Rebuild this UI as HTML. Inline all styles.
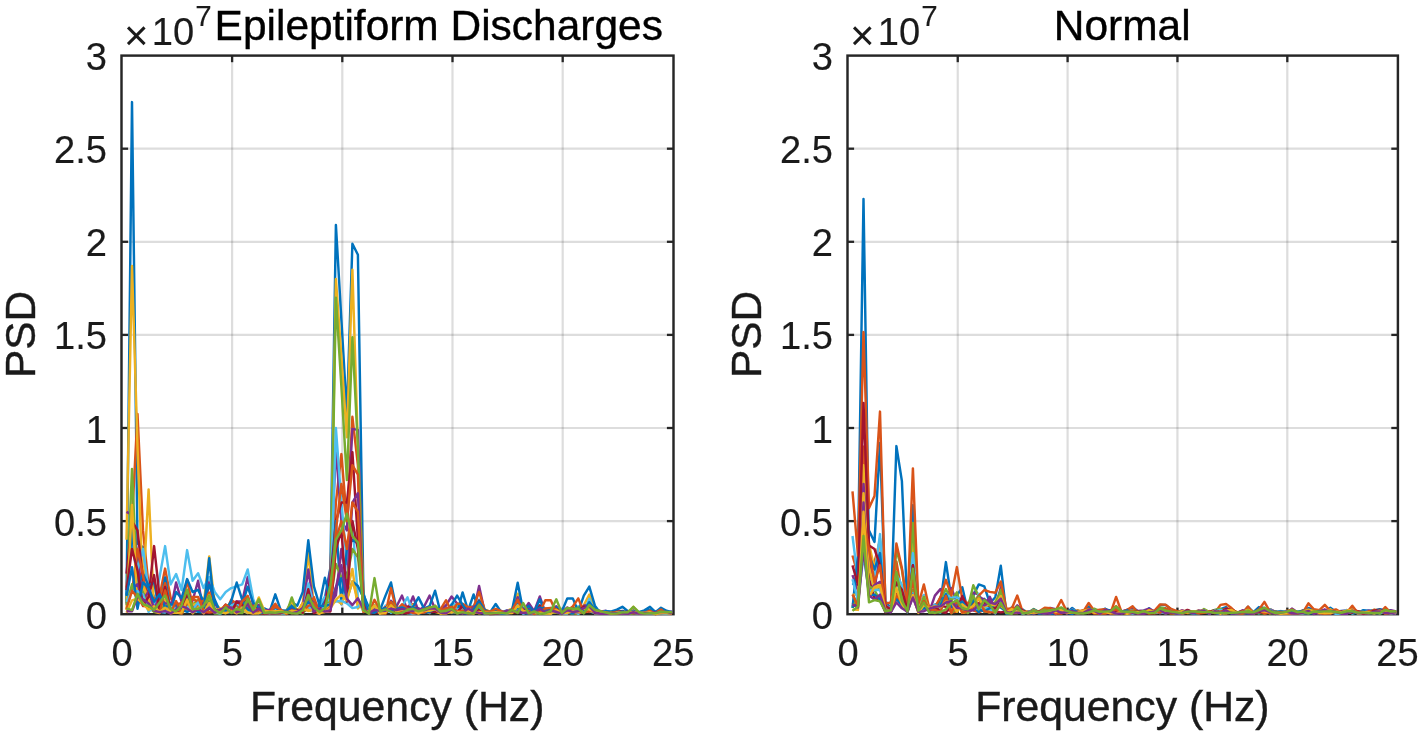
<!DOCTYPE html>
<html lang="en"><head><meta charset="utf-8"><title>PSD: Epileptiform Discharges vs Normal</title>
<style>html,body{margin:0;padding:0;background:#fff;}body{width:1422px;height:735px;overflow:hidden;}svg{display:block;}</style></head>
<body>
<svg width="1422" height="735" viewBox="0 0 1422 735" font-family='"Liberation Sans", sans-serif'>
<rect width="1422" height="735" fill="#fff"/>
<line x1="232.10" y1="55.6" x2="232.10" y2="614.2" stroke="#262626" stroke-opacity="0.155" stroke-width="2.2"/>
<line x1="342.30" y1="55.6" x2="342.30" y2="614.2" stroke="#262626" stroke-opacity="0.155" stroke-width="2.2"/>
<line x1="452.50" y1="55.6" x2="452.50" y2="614.2" stroke="#262626" stroke-opacity="0.155" stroke-width="2.2"/>
<line x1="562.70" y1="55.6" x2="562.70" y2="614.2" stroke="#262626" stroke-opacity="0.155" stroke-width="2.2"/>
<line x1="121.5" y1="521.10" x2="673.5" y2="521.10" stroke="#262626" stroke-opacity="0.155" stroke-width="2.2"/>
<line x1="121.5" y1="428.00" x2="673.5" y2="428.00" stroke="#262626" stroke-opacity="0.155" stroke-width="2.2"/>
<line x1="121.5" y1="334.90" x2="673.5" y2="334.90" stroke="#262626" stroke-opacity="0.155" stroke-width="2.2"/>
<line x1="121.5" y1="241.80" x2="673.5" y2="241.80" stroke="#262626" stroke-opacity="0.155" stroke-width="2.2"/>
<line x1="121.5" y1="148.70" x2="673.5" y2="148.70" stroke="#262626" stroke-opacity="0.155" stroke-width="2.2"/>
<rect x="121.5" y="55.6" width="552.00" height="558.6" fill="none" stroke="#262626" stroke-width="2.45"/>
<line x1="232.10" y1="614.2" x2="232.10" y2="607.6" stroke="#262626" stroke-width="2.3"/>
<line x1="232.10" y1="55.6" x2="232.10" y2="62.2" stroke="#262626" stroke-width="2.3"/>
<line x1="342.30" y1="614.2" x2="342.30" y2="607.6" stroke="#262626" stroke-width="2.3"/>
<line x1="342.30" y1="55.6" x2="342.30" y2="62.2" stroke="#262626" stroke-width="2.3"/>
<line x1="452.50" y1="614.2" x2="452.50" y2="607.6" stroke="#262626" stroke-width="2.3"/>
<line x1="452.50" y1="55.6" x2="452.50" y2="62.2" stroke="#262626" stroke-width="2.3"/>
<line x1="562.70" y1="614.2" x2="562.70" y2="607.6" stroke="#262626" stroke-width="2.3"/>
<line x1="562.70" y1="55.6" x2="562.70" y2="62.2" stroke="#262626" stroke-width="2.3"/>
<line x1="121.5" y1="521.10" x2="128.1" y2="521.10" stroke="#262626" stroke-width="2.3"/>
<line x1="673.5" y1="521.10" x2="666.9" y2="521.10" stroke="#262626" stroke-width="2.3"/>
<line x1="121.5" y1="428.00" x2="128.1" y2="428.00" stroke="#262626" stroke-width="2.3"/>
<line x1="673.5" y1="428.00" x2="666.9" y2="428.00" stroke="#262626" stroke-width="2.3"/>
<line x1="121.5" y1="334.90" x2="128.1" y2="334.90" stroke="#262626" stroke-width="2.3"/>
<line x1="673.5" y1="334.90" x2="666.9" y2="334.90" stroke="#262626" stroke-width="2.3"/>
<line x1="121.5" y1="241.80" x2="128.1" y2="241.80" stroke="#262626" stroke-width="2.3"/>
<line x1="673.5" y1="241.80" x2="666.9" y2="241.80" stroke="#262626" stroke-width="2.3"/>
<line x1="121.5" y1="148.70" x2="128.1" y2="148.70" stroke="#262626" stroke-width="2.3"/>
<line x1="673.5" y1="148.70" x2="666.9" y2="148.70" stroke="#262626" stroke-width="2.3"/>
<g fill="none" stroke-width="2.45" stroke-linejoin="round" stroke-linecap="butt">
<polyline stroke="#0072BD" points="126.5,603.0 132.0,102.1 137.5,543.4 143.0,547.2 148.6,593.3 154.1,595.9 159.6,608.7 165.1,611.5 170.6,607.1 176.1,606.1 181.6,604.8 187.1,593.1 192.6,612.7 198.1,609.9 203.6,612.4 209.2,601.2 214.7,610.1 220.2,613.7 225.7,608.5 231.2,611.4 236.7,609.5 242.2,604.9 247.7,610.7 253.2,610.3 258.8,609.6 264.3,610.5 269.8,612.4 275.3,613.0 280.8,613.5 286.3,611.7 291.8,608.4 297.3,611.0 302.8,608.4 308.3,590.1 313.9,609.5 319.4,613.3 324.9,598.1 330.4,567.7 335.9,225.0 341.4,320.0 346.9,414.0 352.4,243.7 357.9,254.8 363.4,592.8 368.9,613.6 374.5,607.0 380.0,610.7 385.5,612.4 391.0,610.1 396.5,609.2 402.0,613.1 407.5,612.7 413.0,610.5 418.5,613.6 424.1,612.3 429.6,606.7 435.1,609.8 440.6,612.4 446.1,608.8 451.6,607.7 457.1,611.7 462.6,613.0 468.1,613.8 473.6,612.9 479.1,611.3 484.7,613.9 490.2,613.7 495.7,613.4 501.2,612.9 506.7,613.3 512.2,612.9 517.7,603.3 523.2,612.2 528.7,613.8 534.2,613.4 539.8,608.6 545.3,613.2 550.8,611.7 556.3,611.5 561.8,612.8 567.3,608.5 572.8,612.7 578.3,612.9 583.8,610.4 589.3,611.4 594.9,609.5 600.4,611.2 605.9,611.9 611.4,613.6 616.9,613.6 622.4,613.9 627.9,613.3 633.4,611.1 638.9,612.1 644.4,611.8 650.0,613.6 655.5,613.8 661.0,612.1 666.5,612.1 672.0,612.8"/>
<polyline stroke="#D95319" points="126.5,587.7 132.0,521.1 137.5,414.0 143.0,530.4 148.6,586.0 154.1,603.4 159.6,595.7 165.1,568.6 170.6,597.8 176.1,608.0 181.6,612.9 187.1,579.9 192.6,605.6 198.1,605.9 203.6,602.9 209.2,579.8 214.7,611.7 220.2,612.4 225.7,612.3 231.2,610.1 236.7,605.0 242.2,608.2 247.7,603.8 253.2,609.8 258.8,610.9 264.3,613.4 269.8,613.2 275.3,606.6 280.8,612.6 286.3,611.7 291.8,613.0 297.3,612.9 302.8,602.9 308.3,586.3 313.9,600.3 319.4,609.5 324.9,607.7 330.4,595.7 335.9,502.5 341.4,454.1 346.9,521.1 352.4,416.8 357.9,465.2 363.4,601.8 368.9,613.6 374.5,612.4 380.0,609.8 385.5,612.5 391.0,604.1 396.5,607.4 402.0,611.9 407.5,611.0 413.0,604.0 418.5,612.8 424.1,610.9 429.6,612.6 435.1,605.8 440.6,612.0 446.1,613.6 451.6,608.6 457.1,612.8 462.6,604.8 468.1,613.3 473.6,613.1 479.1,611.1 484.7,611.8 490.2,611.3 495.7,612.9 501.2,612.2 506.7,613.8 512.2,610.1 517.7,612.4 523.2,610.2 528.7,613.1 534.2,613.4 539.8,610.5 545.3,610.0 550.8,612.6 556.3,610.5 561.8,613.9 567.3,613.6 572.8,612.0 578.3,608.0 583.8,609.9 589.3,610.3 594.9,612.9 600.4,611.1 605.9,613.4 611.4,612.3 616.9,611.5 622.4,611.9 627.9,612.9 633.4,611.0 638.9,613.1 644.4,611.8 650.0,612.7 655.5,614.0 661.0,613.4 666.5,613.5 672.0,613.4"/>
<polyline stroke="#EDB120" points="126.5,539.7 132.0,266.0 137.5,446.6 143.0,593.5 148.6,489.4 154.1,610.4 159.6,606.8 165.1,609.0 170.6,613.4 176.1,612.4 181.6,613.6 187.1,606.9 192.6,605.5 198.1,599.7 203.6,605.2 209.2,556.5 214.7,603.1 220.2,608.9 225.7,613.0 231.2,602.5 236.7,603.1 242.2,612.3 247.7,604.5 253.2,606.6 258.8,609.4 264.3,610.9 269.8,613.4 275.3,613.0 280.8,613.2 286.3,612.0 291.8,609.2 297.3,612.0 302.8,603.3 308.3,552.8 313.9,606.1 319.4,609.1 324.9,607.7 330.4,593.8 335.9,279.0 341.4,357.2 346.9,437.3 352.4,269.7 357.9,446.6 363.4,601.9 368.9,610.2 374.5,605.6 380.0,613.7 385.5,608.2 391.0,604.6 396.5,611.1 402.0,610.7 407.5,606.8 413.0,604.9 418.5,613.5 424.1,608.5 429.6,610.7 435.1,611.8 440.6,613.2 446.1,613.1 451.6,605.8 457.1,606.7 462.6,604.4 468.1,612.3 473.6,610.3 479.1,613.3 484.7,612.3 490.2,613.6 495.7,612.4 501.2,613.5 506.7,610.8 512.2,608.6 517.7,593.7 523.2,612.3 528.7,608.2 534.2,613.1 539.8,612.4 545.3,613.0 550.8,612.1 556.3,612.7 561.8,613.3 567.3,611.3 572.8,606.9 578.3,609.2 583.8,605.2 589.3,594.6 594.9,609.6 600.4,611.2 605.9,613.6 611.4,612.4 616.9,612.9 622.4,612.8 627.9,611.3 633.4,611.8 638.9,613.0 644.4,613.7 650.0,613.0 655.5,613.1 661.0,610.6 666.5,613.1 672.0,613.9"/>
<polyline stroke="#7E2F8E" points="126.5,511.8 132.0,514.6 137.5,555.5 143.0,600.4 148.6,608.6 154.1,610.3 159.6,601.4 165.1,607.8 170.6,610.7 176.1,582.5 181.6,601.9 187.1,591.9 192.6,600.8 198.1,580.7 203.6,613.3 209.2,582.3 214.7,602.6 220.2,612.5 225.7,612.3 231.2,604.1 236.7,601.4 242.2,601.4 247.7,577.0 253.2,606.0 258.8,604.7 264.3,612.9 269.8,612.7 275.3,606.7 280.8,613.5 286.3,611.7 291.8,612.2 297.3,613.7 302.8,607.4 308.3,569.5 313.9,607.7 319.4,611.9 324.9,603.1 330.4,569.8 335.9,448.5 341.4,521.1 346.9,530.4 352.4,428.9 357.9,429.9 363.4,599.0 368.9,609.3 374.5,610.3 380.0,612.3 385.5,612.2 391.0,600.8 396.5,606.5 402.0,595.6 407.5,610.5 413.0,596.5 418.5,611.0 424.1,606.5 429.6,595.6 435.1,609.3 440.6,609.9 446.1,605.2 451.6,596.5 457.1,603.4 462.6,613.1 468.1,611.4 473.6,611.2 479.1,585.9 484.7,612.0 490.2,613.1 495.7,613.0 501.2,611.0 506.7,612.5 512.2,611.4 517.7,597.2 523.2,611.7 528.7,603.0 534.2,611.1 539.8,596.5 545.3,613.0 550.8,612.1 556.3,606.2 561.8,613.1 567.3,609.0 572.8,607.9 578.3,612.3 583.8,605.8 589.3,604.4 594.9,613.7 600.4,611.8 605.9,610.8 611.4,613.5 616.9,612.2 622.4,613.0 627.9,611.3 633.4,610.6 638.9,613.4 644.4,612.7 650.0,613.8 655.5,612.1 661.0,613.9 666.5,612.4 672.0,611.4"/>
<polyline stroke="#77AC30" points="126.5,602.4 132.0,469.0 137.5,593.5 143.0,591.8 148.6,606.3 154.1,611.3 159.6,605.4 165.1,609.8 170.6,612.4 176.1,607.1 181.6,610.9 187.1,604.8 192.6,604.9 198.1,600.0 203.6,610.1 209.2,597.5 214.7,613.6 220.2,613.6 225.7,606.2 231.2,605.6 236.7,604.7 242.2,611.7 247.7,599.6 253.2,610.4 258.8,613.0 264.3,613.7 269.8,613.2 275.3,610.1 280.8,613.8 286.3,612.5 291.8,612.7 297.3,610.9 302.8,613.5 308.3,606.0 313.9,608.7 319.4,613.1 324.9,608.7 330.4,598.9 335.9,297.7 341.4,387.0 346.9,480.1 352.4,337.3 357.9,446.6 363.4,595.4 368.9,612.3 374.5,609.6 380.0,612.9 385.5,613.5 391.0,607.4 396.5,613.4 402.0,612.0 407.5,613.4 413.0,610.9 418.5,613.3 424.1,610.1 429.6,613.2 435.1,605.9 440.6,613.2 446.1,609.5 451.6,608.3 457.1,609.0 462.6,608.5 468.1,612.0 473.6,608.7 479.1,612.4 484.7,612.5 490.2,613.8 495.7,611.2 501.2,613.7 506.7,612.1 512.2,611.0 517.7,608.2 523.2,611.9 528.7,612.5 534.2,613.1 539.8,611.7 545.3,613.5 550.8,612.1 556.3,610.0 561.8,613.6 567.3,612.0 572.8,613.4 578.3,613.5 583.8,611.5 589.3,608.8 594.9,610.6 600.4,613.1 605.9,613.1 611.4,612.9 616.9,611.9 622.4,611.9 627.9,613.2 633.4,612.5 638.9,612.9 644.4,612.1 650.0,613.8 655.5,613.0 661.0,612.0 666.5,612.6 672.0,613.0"/>
<polyline stroke="#4DBEEE" points="126.5,593.3 132.0,539.7 137.5,570.1 143.0,549.0 148.6,590.7 154.1,605.1 159.6,577.0 165.1,546.1 170.6,584.4 176.1,574.0 181.6,590.0 187.1,550.1 192.6,580.7 198.1,573.2 203.6,588.1 209.2,577.0 214.7,591.9 220.2,599.3 225.7,591.9 231.2,588.1 236.7,586.3 242.2,584.4 247.7,569.5 253.2,599.3 258.8,612.2 264.3,611.3 269.8,610.9 275.3,612.3 280.8,613.1 286.3,613.4 291.8,605.3 297.3,611.9 302.8,613.0 308.3,583.5 313.9,604.5 319.4,605.5 324.9,596.7 330.4,602.7 335.9,428.0 341.4,502.5 346.9,564.0 352.4,521.1 357.9,598.5 363.4,611.9 368.9,609.0 374.5,609.1 380.0,613.2 385.5,605.6 391.0,612.8 396.5,608.6 402.0,606.4 407.5,597.4 413.0,612.4 418.5,611.1 424.1,608.7 429.6,606.9 435.1,607.4 440.6,610.6 446.1,612.1 451.6,603.9 457.1,604.8 462.6,611.6 468.1,607.5 473.6,605.9 479.1,599.6 484.7,612.6 490.2,611.6 495.7,609.9 501.2,612.3 506.7,610.4 512.2,611.4 517.7,605.0 523.2,612.7 528.7,613.1 534.2,613.8 539.8,612.6 545.3,611.9 550.8,613.8 556.3,608.2 561.8,612.3 567.3,613.2 572.8,611.0 578.3,606.3 583.8,612.9 589.3,598.8 594.9,613.4 600.4,613.8 605.9,610.9 611.4,612.4 616.9,612.2 622.4,613.8 627.9,611.7 633.4,612.8 638.9,613.9 644.4,613.0 650.0,612.7 655.5,611.2 661.0,610.6 666.5,613.7 672.0,612.9"/>
<polyline stroke="#A2142F" points="126.5,573.7 132.0,521.1 137.5,530.4 143.0,579.5 148.6,596.9 154.1,546.1 159.6,596.8 165.1,608.5 170.6,608.1 176.1,603.1 181.6,604.9 187.1,590.5 192.6,609.4 198.1,607.4 203.6,612.6 209.2,612.7 214.7,611.4 220.2,610.9 225.7,604.6 231.2,609.1 236.7,602.8 242.2,605.6 247.7,608.7 253.2,606.3 258.8,608.4 264.3,612.0 269.8,611.8 275.3,609.9 280.8,613.3 286.3,612.9 291.8,607.4 297.3,613.4 302.8,610.5 308.3,609.7 313.9,611.6 319.4,609.2 324.9,604.9 330.4,579.5 335.9,521.1 341.4,502.5 346.9,502.5 352.4,452.2 357.9,539.7 363.4,611.0 368.9,611.5 374.5,607.5 380.0,611.5 385.5,607.3 391.0,608.5 396.5,609.5 402.0,612.2 407.5,606.6 413.0,608.1 418.5,608.7 424.1,611.6 429.6,609.1 435.1,609.8 440.6,611.4 446.1,612.6 451.6,610.6 457.1,610.8 462.6,604.2 468.1,609.4 473.6,610.9 479.1,600.5 484.7,612.0 490.2,611.2 495.7,612.0 501.2,612.5 506.7,611.1 512.2,610.5 517.7,607.2 523.2,608.8 528.7,610.5 534.2,612.2 539.8,605.3 545.3,613.6 550.8,612.1 556.3,611.5 561.8,612.8 567.3,612.5 572.8,608.2 578.3,610.6 583.8,607.0 589.3,612.0 594.9,608.9 600.4,611.8 605.9,612.7 611.4,612.2 616.9,612.0 622.4,611.0 627.9,613.2 633.4,613.2 638.9,613.1 644.4,613.4 650.0,613.2 655.5,613.9 661.0,611.9 666.5,613.5 672.0,613.2"/>
<polyline stroke="#0072BD" points="126.5,594.9 132.0,530.4 137.5,587.0 143.0,573.8 148.6,585.8 154.1,582.0 159.6,611.2 165.1,577.5 170.6,611.1 176.1,592.0 181.6,598.2 187.1,579.1 192.6,592.0 198.1,589.8 203.6,601.8 209.2,584.8 214.7,599.6 220.2,611.9 225.7,612.1 231.2,612.7 236.7,611.4 242.2,604.8 247.7,586.7 253.2,602.8 258.8,607.8 264.3,608.4 269.8,611.2 275.3,594.3 280.8,610.3 286.3,610.8 291.8,602.5 297.3,605.6 302.8,591.9 308.3,540.3 313.9,586.3 319.4,604.9 324.9,577.8 330.4,599.4 335.9,521.1 341.4,604.3 346.9,549.0 352.4,539.7 357.9,543.4 363.4,594.7 368.9,607.8 374.5,607.7 380.0,610.3 385.5,595.6 391.0,582.5 396.5,609.8 402.0,611.1 407.5,611.8 413.0,606.8 418.5,597.4 424.1,608.6 429.6,606.2 435.1,590.7 440.6,612.9 446.1,609.8 451.6,613.0 457.1,612.9 462.6,592.4 468.1,610.5 473.6,594.5 479.1,610.1 484.7,611.7 490.2,612.1 495.7,604.0 501.2,612.2 506.7,613.0 512.2,609.5 517.7,582.7 523.2,611.3 528.7,605.8 534.2,612.3 539.8,599.3 545.3,612.5 550.8,613.7 556.3,607.4 561.8,611.5 567.3,598.4 572.8,598.4 578.3,611.6 583.8,595.6 589.3,586.6 594.9,605.7 600.4,613.3 605.9,611.2 611.4,611.5 616.9,609.7 622.4,606.8 627.9,611.2 633.4,613.6 638.9,612.2 644.4,610.4 650.0,606.8 655.5,612.2 661.0,607.7 666.5,610.8 672.0,612.2"/>
<polyline stroke="#D95319" points="126.5,599.1 132.0,591.9 137.5,549.0 143.0,575.1 148.6,607.9 154.1,597.7 159.6,602.1 165.1,583.3 170.6,613.3 176.1,605.9 181.6,602.5 187.1,611.6 192.6,598.3 198.1,602.2 203.6,601.0 209.2,592.6 214.7,610.7 220.2,609.5 225.7,611.7 231.2,599.8 236.7,603.9 242.2,607.5 247.7,608.8 253.2,605.7 258.8,612.9 264.3,610.1 269.8,610.8 275.3,603.7 280.8,611.6 286.3,613.5 291.8,612.4 297.3,612.0 302.8,608.6 308.3,609.4 313.9,597.2 319.4,613.0 324.9,610.1 330.4,607.1 335.9,530.4 341.4,483.9 346.9,521.1 352.4,465.2 357.9,474.6 363.4,611.9 368.9,608.3 374.5,610.3 380.0,613.3 385.5,613.4 391.0,588.1 396.5,610.7 402.0,604.3 407.5,608.8 413.0,612.5 418.5,611.9 424.1,609.1 429.6,607.3 435.1,609.1 440.6,609.2 446.1,600.2 451.6,612.0 457.1,603.8 462.6,603.9 468.1,607.2 473.6,606.8 479.1,591.9 484.7,609.7 490.2,611.6 495.7,610.6 501.2,613.7 506.7,613.2 512.2,611.5 517.7,610.9 523.2,610.2 528.7,609.7 534.2,613.3 539.8,611.9 545.3,600.2 550.8,600.2 556.3,612.8 561.8,612.0 567.3,610.6 572.8,606.5 578.3,598.4 583.8,612.4 589.3,603.2 594.9,612.7 600.4,613.0 605.9,613.6 611.4,612.2 616.9,613.4 622.4,612.5 627.9,613.2 633.4,613.3 638.9,612.7 644.4,612.7 650.0,613.2 655.5,612.7 661.0,609.6 666.5,613.7 672.0,612.2"/>
<polyline stroke="#EDB120" points="126.5,610.0 132.0,504.9 137.5,601.8 143.0,585.4 148.6,598.9 154.1,611.7 159.6,613.1 165.1,599.7 170.6,611.7 176.1,605.3 181.6,606.4 187.1,610.5 192.6,605.0 198.1,603.5 203.6,606.1 209.2,595.2 214.7,610.6 220.2,608.6 225.7,606.6 231.2,612.2 236.7,610.6 242.2,610.4 247.7,613.1 253.2,611.2 258.8,597.4 264.3,610.7 269.8,612.8 275.3,611.3 280.8,613.3 286.3,611.0 291.8,601.2 297.3,612.2 302.8,603.3 308.3,610.3 313.9,611.6 319.4,613.8 324.9,610.1 330.4,604.0 335.9,600.0 341.4,603.7 346.9,591.7 352.4,568.9 357.9,608.5 363.4,602.0 368.9,612.7 374.5,606.3 380.0,613.4 385.5,609.0 391.0,603.7 396.5,612.3 402.0,607.9 407.5,611.5 413.0,608.9 418.5,612.8 424.1,611.7 429.6,608.0 435.1,606.4 440.6,613.6 446.1,608.2 451.6,612.6 457.1,609.9 462.6,610.4 468.1,611.8 473.6,613.7 479.1,602.8 484.7,610.3 490.2,611.6 495.7,610.7 501.2,612.8 506.7,612.0 512.2,611.5 517.7,607.3 523.2,612.0 528.7,609.8 534.2,613.2 539.8,613.1 545.3,608.6 550.8,612.8 556.3,611.5 561.8,614.0 567.3,612.6 572.8,612.7 578.3,613.3 583.8,607.8 589.3,608.5 594.9,612.9 600.4,612.7 605.9,612.7 611.4,613.7 616.9,613.5 622.4,612.9 627.9,613.8 633.4,606.8 638.9,613.1 644.4,613.0 650.0,613.0 655.5,613.9 661.0,611.7 666.5,613.8 672.0,613.1"/>
<polyline stroke="#7E2F8E" points="126.5,604.1 132.0,588.8 137.5,584.2 143.0,600.8 148.6,591.2 154.1,608.3 159.6,597.8 165.1,603.7 170.6,602.6 176.1,608.7 181.6,609.7 187.1,607.8 192.6,607.0 198.1,609.3 203.6,604.4 209.2,605.0 214.7,611.9 220.2,610.5 225.7,612.8 231.2,610.8 236.7,602.2 242.2,612.0 247.7,596.5 253.2,613.3 258.8,610.5 264.3,610.8 269.8,609.6 275.3,609.9 280.8,612.7 286.3,612.3 291.8,606.7 297.3,612.0 302.8,610.3 308.3,598.2 313.9,602.9 319.4,611.3 324.9,604.7 330.4,603.0 335.9,595.4 341.4,549.0 346.9,583.5 352.4,502.5 357.9,493.2 363.4,609.6 368.9,612.4 374.5,610.4 380.0,612.3 385.5,612.7 391.0,606.6 396.5,607.9 402.0,613.5 407.5,608.5 413.0,609.3 418.5,611.9 424.1,610.8 429.6,612.7 435.1,609.2 440.6,611.9 446.1,607.5 451.6,611.6 457.1,612.7 462.6,613.3 468.1,613.0 473.6,606.9 479.1,604.6 484.7,613.4 490.2,613.0 495.7,612.9 501.2,613.6 506.7,610.5 512.2,612.6 517.7,610.0 523.2,609.5 528.7,609.1 534.2,612.7 539.8,613.1 545.3,608.9 550.8,608.1 556.3,612.3 561.8,612.2 567.3,607.4 572.8,611.6 578.3,612.9 583.8,606.8 589.3,604.9 594.9,613.2 600.4,613.0 605.9,613.3 611.4,613.7 616.9,613.2 622.4,613.9 627.9,612.0 633.4,613.5 638.9,613.7 644.4,613.6 650.0,613.2 655.5,612.8 661.0,613.0 666.5,613.6 672.0,612.3"/>
<polyline stroke="#77AC30" points="126.5,605.4 132.0,584.2 137.5,601.1 143.0,593.9 148.6,607.7 154.1,611.8 159.6,610.7 165.1,605.7 170.6,608.3 176.1,609.4 181.6,612.4 187.1,607.7 192.6,612.7 198.1,609.4 203.6,611.9 209.2,608.8 214.7,612.8 220.2,612.7 225.7,605.8 231.2,604.7 236.7,612.8 242.2,613.1 247.7,603.6 253.2,611.3 258.8,609.8 264.3,611.0 269.8,612.0 275.3,612.8 280.8,611.2 286.3,614.0 291.8,597.4 297.3,612.9 302.8,613.4 308.3,597.7 313.9,604.9 319.4,610.2 324.9,608.1 330.4,600.9 335.9,564.0 341.4,577.4 346.9,577.7 352.4,549.0 357.9,557.4 363.4,605.4 368.9,611.1 374.5,605.0 380.0,611.1 385.5,612.6 391.0,602.1 396.5,609.0 402.0,608.6 407.5,610.2 413.0,613.3 418.5,611.6 424.1,609.4 429.6,609.0 435.1,607.7 440.6,613.2 446.1,608.4 451.6,610.8 457.1,613.5 462.6,611.3 468.1,612.7 473.6,608.7 479.1,612.1 484.7,612.3 490.2,611.6 495.7,612.7 501.2,613.6 506.7,612.8 512.2,611.6 517.7,612.2 523.2,611.6 528.7,610.4 534.2,613.8 539.8,612.1 545.3,613.7 550.8,612.9 556.3,612.0 561.8,613.5 567.3,612.4 572.8,613.8 578.3,607.4 583.8,613.1 589.3,603.0 594.9,613.4 600.4,613.0 605.9,613.2 611.4,612.4 616.9,612.3 622.4,612.3 627.9,613.7 633.4,613.5 638.9,612.8 644.4,613.4 650.0,611.1 655.5,613.4 661.0,611.6 666.5,613.5 672.0,612.8"/>
<polyline stroke="#4DBEEE" points="126.5,601.9 132.0,591.0 137.5,591.2 143.0,594.6 148.6,611.9 154.1,606.9 159.6,611.9 165.1,612.6 170.6,605.2 176.1,609.3 181.6,608.9 187.1,606.6 192.6,609.7 198.1,602.4 203.6,612.9 209.2,606.8 214.7,612.0 220.2,613.6 225.7,610.6 231.2,605.5 236.7,602.8 242.2,608.1 247.7,612.8 253.2,610.6 258.8,610.7 264.3,612.5 269.8,613.2 275.3,608.3 280.8,613.3 286.3,613.2 291.8,610.5 297.3,612.0 302.8,609.5 308.3,606.3 313.9,612.3 319.4,611.8 324.9,606.3 330.4,603.6 335.9,601.5 341.4,600.8 346.9,603.4 352.4,608.1 357.9,607.0 363.4,599.5 368.9,610.6 374.5,605.5 380.0,613.2 385.5,609.9 391.0,605.3 396.5,612.9 402.0,610.6 407.5,613.0 413.0,613.7 418.5,612.5 424.1,611.7 429.6,612.3 435.1,610.8 440.6,612.2 446.1,611.2 451.6,608.9 457.1,609.5 462.6,608.4 468.1,610.1 473.6,611.7 479.1,604.4 484.7,613.6 490.2,613.6 495.7,611.4 501.2,611.9 506.7,613.5 512.2,612.2 517.7,608.7 523.2,613.9 528.7,611.2 534.2,613.1 539.8,610.2 545.3,613.0 550.8,611.5 556.3,609.6 561.8,613.9 567.3,613.2 572.8,609.0 578.3,613.8 583.8,608.7 589.3,611.0 594.9,613.1 600.4,612.8 605.9,613.1 611.4,613.7 616.9,612.1 622.4,613.9 627.9,613.3 633.4,612.6 638.9,613.9 644.4,613.0 650.0,613.7 655.5,612.6 661.0,613.5 666.5,613.6 672.0,613.5"/>
<polyline stroke="#A2142F" points="126.5,590.2 132.0,549.0 137.5,570.4 143.0,606.0 148.6,596.7 154.1,575.1 159.6,610.2 165.1,587.0 170.6,610.7 176.1,611.3 181.6,613.2 187.1,592.6 192.6,609.1 198.1,610.5 203.6,613.3 209.2,608.5 214.7,609.4 220.2,612.0 225.7,609.7 231.2,612.5 236.7,601.5 242.2,605.4 247.7,599.4 253.2,610.6 258.8,612.7 264.3,613.9 269.8,613.0 275.3,612.7 280.8,613.2 286.3,611.3 291.8,612.7 297.3,609.5 302.8,612.8 308.3,589.2 313.9,613.0 319.4,610.9 324.9,611.2 330.4,611.5 335.9,549.0 341.4,530.4 346.9,601.6 352.4,521.1 357.9,549.0 363.4,602.5 368.9,613.0 374.5,612.9 380.0,611.7 385.5,613.3 391.0,605.7 396.5,613.7 402.0,612.9 407.5,613.1 413.0,611.5 418.5,610.5 424.1,610.8 429.6,611.8 435.1,611.9 440.6,611.5 446.1,612.4 451.6,607.0 457.1,612.3 462.6,606.1 468.1,613.6 473.6,609.1 479.1,610.4 484.7,613.0 490.2,614.0 495.7,613.8 501.2,612.9 506.7,613.1 512.2,612.9 517.7,612.1 523.2,610.1 528.7,613.4 534.2,613.1 539.8,610.9 545.3,612.2 550.8,611.9 556.3,608.9 561.8,613.2 567.3,610.4 572.8,608.9 578.3,610.9 583.8,606.8 589.3,608.1 594.9,613.1 600.4,613.0 605.9,613.3 611.4,613.1 616.9,611.8 622.4,612.7 627.9,611.7 633.4,613.1 638.9,612.8 644.4,613.3 650.0,611.5 655.5,612.6 661.0,612.8 666.5,612.2 672.0,612.7"/>
<polyline stroke="#0072BD" points="126.5,596.0 132.0,567.3 137.5,608.8 143.0,582.4 148.6,588.2 154.1,601.7 159.6,594.3 165.1,607.4 170.6,604.2 176.1,605.0 181.6,609.7 187.1,611.9 192.6,609.3 198.1,611.8 203.6,612.5 209.2,558.3 214.7,612.3 220.2,610.8 225.7,610.6 231.2,601.1 236.7,582.5 242.2,599.8 247.7,609.3 253.2,612.2 258.8,613.3 264.3,612.2 269.8,612.8 275.3,607.0 280.8,611.5 286.3,611.0 291.8,606.0 297.3,612.1 302.8,608.5 308.3,602.0 313.9,609.2 319.4,606.0 324.9,605.7 330.4,604.6 335.9,587.7 341.4,578.2 346.9,599.2 352.4,581.4 357.9,586.0 363.4,597.4 368.9,612.1 374.5,612.8 380.0,609.7 385.5,608.3 391.0,610.8 396.5,609.1 402.0,607.4 407.5,609.8 413.0,608.2 418.5,608.8 424.1,612.6 429.6,611.6 435.1,608.8 440.6,612.1 446.1,612.9 451.6,605.0 457.1,595.6 462.6,604.9 468.1,612.6 473.6,609.8 479.1,601.4 484.7,609.9 490.2,612.5 495.7,609.8 501.2,613.7 506.7,613.6 512.2,609.2 517.7,608.0 523.2,611.6 528.7,610.1 534.2,612.4 539.8,607.4 545.3,609.3 550.8,610.8 556.3,611.7 561.8,613.6 567.3,612.5 572.8,613.6 578.3,608.4 583.8,611.6 589.3,602.2 594.9,609.6 600.4,613.3 605.9,611.5 611.4,613.6 616.9,612.9 622.4,611.4 627.9,612.8 633.4,610.8 638.9,613.2 644.4,611.3 650.0,609.7 655.5,613.0 661.0,613.3 666.5,611.8 672.0,612.9"/>
<polyline stroke="#D95319" points="126.5,609.1 132.0,590.8 137.5,597.4 143.0,605.5 148.6,607.3 154.1,606.7 159.6,612.7 165.1,590.4 170.6,612.9 176.1,601.1 181.6,613.0 187.1,603.4 192.6,596.9 198.1,597.0 203.6,610.6 209.2,612.3 214.7,611.8 220.2,612.3 225.7,604.7 231.2,608.5 236.7,613.1 242.2,601.3 247.7,595.8 253.2,612.8 258.8,610.2 264.3,612.1 269.8,611.6 275.3,606.6 280.8,609.6 286.3,613.8 291.8,610.2 297.3,611.3 302.8,610.9 308.3,605.9 313.9,603.3 319.4,610.8 324.9,611.3 330.4,607.5 335.9,539.7 341.4,521.1 346.9,549.0 352.4,502.5 357.9,511.8 363.4,609.0 368.9,612.8 374.5,599.8 380.0,609.9 385.5,613.4 391.0,602.0 396.5,611.6 402.0,611.8 407.5,609.0 413.0,613.2 418.5,613.1 424.1,612.6 429.6,609.4 435.1,608.6 440.6,610.7 446.1,608.5 451.6,606.9 457.1,611.4 462.6,610.6 468.1,612.6 473.6,613.1 479.1,604.6 484.7,611.3 490.2,611.6 495.7,608.9 501.2,611.2 506.7,613.1 512.2,610.0 517.7,599.9 523.2,611.4 528.7,611.0 534.2,613.9 539.8,611.8 545.3,608.5 550.8,607.9 556.3,609.7 561.8,613.0 567.3,609.6 572.8,611.9 578.3,612.3 583.8,612.4 589.3,611.2 594.9,611.1 600.4,611.9 605.9,612.4 611.4,613.7 616.9,613.5 622.4,613.4 627.9,613.2 633.4,611.9 638.9,613.3 644.4,612.9 650.0,610.7 655.5,613.9 661.0,611.4 666.5,612.7 672.0,613.7"/>
<polyline stroke="#EDB120" points="126.5,612.7 132.0,600.4 137.5,598.7 143.0,603.3 148.6,609.9 154.1,606.3 159.6,612.1 165.1,607.7 170.6,611.6 176.1,612.9 181.6,612.6 187.1,599.8 192.6,613.4 198.1,607.2 203.6,613.3 209.2,603.0 214.7,611.9 220.2,611.9 225.7,613.2 231.2,611.4 236.7,613.3 242.2,607.8 247.7,612.5 253.2,613.5 258.8,613.2 264.3,610.8 269.8,611.8 275.3,611.2 280.8,611.2 286.3,612.8 291.8,610.9 297.3,611.7 302.8,608.6 308.3,610.9 313.9,608.7 319.4,613.1 324.9,612.0 330.4,608.3 335.9,599.7 341.4,594.7 346.9,600.5 352.4,581.3 357.9,600.0 363.4,610.6 368.9,611.6 374.5,605.5 380.0,613.5 385.5,612.9 391.0,605.3 396.5,611.4 402.0,609.6 407.5,610.5 413.0,609.8 418.5,613.4 424.1,610.9 429.6,610.8 435.1,609.0 440.6,613.3 446.1,613.2 451.6,612.0 457.1,611.9 462.6,613.0 468.1,610.2 473.6,612.9 479.1,612.0 484.7,612.7 490.2,612.6 495.7,612.3 501.2,612.8 506.7,613.0 512.2,613.1 517.7,605.7 523.2,611.0 528.7,612.1 534.2,612.8 539.8,612.9 545.3,613.3 550.8,613.9 556.3,609.7 561.8,613.2 567.3,612.9 572.8,611.4 578.3,611.9 583.8,608.5 589.3,609.3 594.9,611.8 600.4,611.8 605.9,612.8 611.4,613.5 616.9,612.5 622.4,613.0 627.9,612.5 633.4,611.9 638.9,613.3 644.4,612.4 650.0,612.2 655.5,613.9 661.0,613.3 666.5,612.7 672.0,613.2"/>
<polyline stroke="#7E2F8E" points="126.5,611.3 132.0,611.2 137.5,596.7 143.0,599.2 148.6,603.5 154.1,610.7 159.6,612.1 165.1,611.1 170.6,613.4 176.1,609.4 181.6,606.0 187.1,608.4 192.6,612.3 198.1,609.2 203.6,612.2 209.2,607.6 214.7,612.6 220.2,609.3 225.7,607.6 231.2,607.4 236.7,612.4 242.2,609.9 247.7,604.4 253.2,612.6 258.8,608.6 264.3,613.1 269.8,613.0 275.3,613.2 280.8,612.4 286.3,611.6 291.8,613.1 297.3,611.9 302.8,608.1 308.3,594.7 313.9,611.5 319.4,608.7 324.9,611.6 330.4,610.1 335.9,587.4 341.4,565.3 346.9,598.9 352.4,605.1 357.9,598.2 363.4,609.1 368.9,613.2 374.5,609.8 380.0,611.1 385.5,610.7 391.0,608.7 396.5,610.0 402.0,608.9 407.5,610.2 413.0,611.0 418.5,608.6 424.1,610.2 429.6,608.6 435.1,608.5 440.6,612.6 446.1,613.4 451.6,609.2 457.1,613.1 462.6,613.1 468.1,608.6 473.6,611.8 479.1,612.9 484.7,613.4 490.2,612.9 495.7,613.4 501.2,613.1 506.7,612.0 512.2,611.1 517.7,612.0 523.2,613.0 528.7,612.2 534.2,612.6 539.8,608.7 545.3,612.0 550.8,610.7 556.3,611.8 561.8,613.7 567.3,610.2 572.8,612.1 578.3,611.3 583.8,608.1 589.3,606.3 594.9,612.4 600.4,613.7 605.9,613.7 611.4,612.9 616.9,613.2 622.4,613.6 627.9,613.7 633.4,612.1 638.9,613.6 644.4,612.8 650.0,613.3 655.5,612.5 661.0,611.9 666.5,611.9 672.0,613.3"/>
<polyline stroke="#77AC30" points="126.5,608.4 132.0,610.1 137.5,594.0 143.0,604.1 148.6,606.2 154.1,609.8 159.6,602.6 165.1,595.6 170.6,609.1 176.1,611.3 181.6,605.2 187.1,589.7 192.6,609.1 198.1,608.8 203.6,605.8 209.2,595.6 214.7,609.5 220.2,613.3 225.7,607.4 231.2,613.0 236.7,608.6 242.2,610.9 247.7,598.7 253.2,609.9 258.8,599.3 264.3,613.0 269.8,612.2 275.3,612.7 280.8,611.9 286.3,612.0 291.8,613.2 297.3,613.6 302.8,610.3 308.3,595.1 313.9,607.4 319.4,611.9 324.9,608.3 330.4,585.2 335.9,539.7 341.4,530.4 346.9,513.7 352.4,536.0 357.9,542.5 363.4,610.1 368.9,613.8 374.5,578.1 380.0,611.3 385.5,609.4 391.0,611.7 396.5,613.4 402.0,612.9 407.5,609.8 413.0,608.8 418.5,611.3 424.1,609.8 429.6,607.6 435.1,606.2 440.6,611.5 446.1,610.8 451.6,608.9 457.1,613.4 462.6,612.1 468.1,613.4 473.6,613.2 479.1,605.3 484.7,613.4 490.2,613.5 495.7,613.1 501.2,612.9 506.7,613.4 512.2,610.0 517.7,612.9 523.2,603.0 528.7,613.3 534.2,611.5 539.8,613.9 545.3,613.2 550.8,611.0 556.3,599.3 561.8,612.9 567.3,608.0 572.8,608.8 578.3,608.7 583.8,613.3 589.3,605.0 594.9,609.7 600.4,611.1 605.9,612.6 611.4,613.6 616.9,613.6 622.4,612.4 627.9,612.2 633.4,606.8 638.9,612.2 644.4,613.6 650.0,613.2 655.5,613.2 661.0,611.6 666.5,612.0 672.0,612.3"/>
</g>
<g fill="#1a1a1a" stroke="#1a1a1a" stroke-width="0.4">
<text transform="translate(122.2,666.3) scale(0.982,1)" font-size="38.8px" text-anchor="middle" stroke-width="0.15">0</text>
<text transform="translate(232.4,666.3) scale(0.982,1)" font-size="38.8px" text-anchor="middle" stroke-width="0.15">5</text>
<text transform="translate(342.6,666.3) scale(0.982,1)" font-size="38.8px" text-anchor="middle" stroke-width="0.15">10</text>
<text transform="translate(452.8,666.3) scale(0.982,1)" font-size="38.8px" text-anchor="middle" stroke-width="0.15">15</text>
<text transform="translate(563.0,666.3) scale(0.982,1)" font-size="38.8px" text-anchor="middle" stroke-width="0.15">20</text>
<text transform="translate(673.2,666.3) scale(0.982,1)" font-size="38.8px" text-anchor="middle" stroke-width="0.15">25</text>
<text transform="translate(106.9,628.7) scale(0.982,1)" font-size="38.8px" text-anchor="end" stroke-width="0.15">0</text>
<text transform="translate(106.9,535.6) scale(0.982,1)" font-size="38.8px" text-anchor="end" stroke-width="0.15">0.5</text>
<text transform="translate(106.9,442.5) scale(0.982,1)" font-size="38.8px" text-anchor="end" stroke-width="0.15">1</text>
<text transform="translate(106.9,349.4) scale(0.982,1)" font-size="38.8px" text-anchor="end" stroke-width="0.15">1.5</text>
<text transform="translate(106.9,256.3) scale(0.982,1)" font-size="38.8px" text-anchor="end" stroke-width="0.15">2</text>
<text transform="translate(106.9,163.2) scale(0.982,1)" font-size="38.8px" text-anchor="end" stroke-width="0.15">2.5</text>
<text transform="translate(106.9,70.1) scale(0.982,1)" font-size="38.8px" text-anchor="end" stroke-width="0.15">3</text>
<text transform="translate(124.1,49.8) scale(1.0,1)" font-size="42px" text-anchor="start" stroke="none">×</text>
<text transform="translate(151.8,45.0) scale(0.982,1)" font-size="38.8px" text-anchor="start" stroke-width="0.15">10</text>
<text transform="translate(195.3,26.3) scale(0.982,1)" font-size="30px" text-anchor="start" stroke-width="0.15">7</text>
<text transform="translate(397.2,721.2) scale(1.003,1)" font-size="42.6px" text-anchor="middle">Frequency (Hz)</text>
<text transform="translate(35.0,334.4) rotate(-90) scale(0.997,1)" font-size="42.6px" text-anchor="middle">PSD</text>
<text transform="translate(214.6,39.5) scale(0.997,1)" font-size="42.6px" text-anchor="start" fill="#000" stroke="#000">Epileptiform Discharges</text>
</g>
<line x1="957.75" y1="55.6" x2="957.75" y2="614.2" stroke="#262626" stroke-opacity="0.155" stroke-width="2.2"/>
<line x1="1067.60" y1="55.6" x2="1067.60" y2="614.2" stroke="#262626" stroke-opacity="0.155" stroke-width="2.2"/>
<line x1="1177.45" y1="55.6" x2="1177.45" y2="614.2" stroke="#262626" stroke-opacity="0.155" stroke-width="2.2"/>
<line x1="1287.30" y1="55.6" x2="1287.30" y2="614.2" stroke="#262626" stroke-opacity="0.155" stroke-width="2.2"/>
<line x1="847.5" y1="521.10" x2="1397.9" y2="521.10" stroke="#262626" stroke-opacity="0.155" stroke-width="2.2"/>
<line x1="847.5" y1="428.00" x2="1397.9" y2="428.00" stroke="#262626" stroke-opacity="0.155" stroke-width="2.2"/>
<line x1="847.5" y1="334.90" x2="1397.9" y2="334.90" stroke="#262626" stroke-opacity="0.155" stroke-width="2.2"/>
<line x1="847.5" y1="241.80" x2="1397.9" y2="241.80" stroke="#262626" stroke-opacity="0.155" stroke-width="2.2"/>
<line x1="847.5" y1="148.70" x2="1397.9" y2="148.70" stroke="#262626" stroke-opacity="0.155" stroke-width="2.2"/>
<rect x="847.5" y="55.6" width="550.40" height="558.6" fill="none" stroke="#262626" stroke-width="2.45"/>
<line x1="957.75" y1="614.2" x2="957.75" y2="607.6" stroke="#262626" stroke-width="2.3"/>
<line x1="957.75" y1="55.6" x2="957.75" y2="62.2" stroke="#262626" stroke-width="2.3"/>
<line x1="1067.60" y1="614.2" x2="1067.60" y2="607.6" stroke="#262626" stroke-width="2.3"/>
<line x1="1067.60" y1="55.6" x2="1067.60" y2="62.2" stroke="#262626" stroke-width="2.3"/>
<line x1="1177.45" y1="614.2" x2="1177.45" y2="607.6" stroke="#262626" stroke-width="2.3"/>
<line x1="1177.45" y1="55.6" x2="1177.45" y2="62.2" stroke="#262626" stroke-width="2.3"/>
<line x1="1287.30" y1="614.2" x2="1287.30" y2="607.6" stroke="#262626" stroke-width="2.3"/>
<line x1="1287.30" y1="55.6" x2="1287.30" y2="62.2" stroke="#262626" stroke-width="2.3"/>
<line x1="847.5" y1="521.10" x2="854.1" y2="521.10" stroke="#262626" stroke-width="2.3"/>
<line x1="1397.9" y1="521.10" x2="1391.3000000000002" y2="521.10" stroke="#262626" stroke-width="2.3"/>
<line x1="847.5" y1="428.00" x2="854.1" y2="428.00" stroke="#262626" stroke-width="2.3"/>
<line x1="1397.9" y1="428.00" x2="1391.3000000000002" y2="428.00" stroke="#262626" stroke-width="2.3"/>
<line x1="847.5" y1="334.90" x2="854.1" y2="334.90" stroke="#262626" stroke-width="2.3"/>
<line x1="1397.9" y1="334.90" x2="1391.3000000000002" y2="334.90" stroke="#262626" stroke-width="2.3"/>
<line x1="847.5" y1="241.80" x2="854.1" y2="241.80" stroke="#262626" stroke-width="2.3"/>
<line x1="1397.9" y1="241.80" x2="1391.3000000000002" y2="241.80" stroke="#262626" stroke-width="2.3"/>
<line x1="847.5" y1="148.70" x2="854.1" y2="148.70" stroke="#262626" stroke-width="2.3"/>
<line x1="1397.9" y1="148.70" x2="1391.3000000000002" y2="148.70" stroke="#262626" stroke-width="2.3"/>
<g fill="none" stroke-width="2.45" stroke-linejoin="round" stroke-linecap="butt">
<polyline stroke="#0072BD" points="852.5,584.9 858.0,579.9 863.5,502.5 869.0,530.4 874.5,542.0 880.0,442.9 885.4,601.0 890.9,609.0 896.4,446.1 901.9,481.1 907.4,608.4 912.9,505.3 918.4,610.1 923.9,599.3 929.4,608.9 934.9,604.7 940.4,603.0 945.9,562.1 951.4,599.3 956.9,595.6 962.3,587.2 967.8,611.0 973.3,595.6 978.8,584.4 984.3,586.3 989.8,603.0 995.3,597.4 1000.8,565.8 1006.3,613.1 1011.8,607.4 1017.3,612.5 1022.8,609.6 1028.3,613.5 1033.7,613.4 1039.2,611.4 1044.7,610.5 1050.2,612.2 1055.7,612.6 1061.2,612.4 1066.7,613.0 1072.2,607.9 1077.7,612.2 1083.2,612.7 1088.7,606.5 1094.2,612.5 1099.7,613.0 1105.1,608.7 1110.6,612.8 1116.1,612.5 1121.6,612.8 1127.1,611.9 1132.6,606.9 1138.1,611.6 1143.6,613.2 1149.1,608.2 1154.6,612.9 1160.1,604.9 1165.6,604.9 1171.1,609.3 1176.5,612.6 1182.0,613.1 1187.5,612.1 1193.0,612.5 1198.5,610.9 1204.0,612.4 1209.5,613.6 1215.0,610.2 1220.5,609.2 1226.0,607.1 1231.5,613.6 1237.0,613.0 1242.5,612.9 1248.0,606.8 1253.4,612.2 1258.9,607.1 1264.4,607.9 1269.9,613.1 1275.4,613.3 1280.9,611.1 1286.4,613.5 1291.9,611.1 1297.4,612.3 1302.9,613.2 1308.4,607.9 1313.9,609.9 1319.4,610.2 1324.8,611.2 1330.3,607.7 1335.8,611.8 1341.3,610.9 1346.8,610.7 1352.3,609.7 1357.8,613.2 1363.3,610.2 1368.8,610.8 1374.3,610.0 1379.8,610.9 1385.3,612.9 1390.8,613.5 1396.2,612.3"/>
<polyline stroke="#D95319" points="852.5,555.5 858.0,575.1 863.5,446.6 869.0,572.3 874.5,561.9 880.0,540.9 885.4,608.7 890.9,606.4 896.4,561.4 901.9,594.0 907.4,609.7 912.9,540.9 918.4,610.3 923.9,607.7 929.4,610.3 934.9,607.3 940.4,598.6 945.9,601.8 951.4,612.3 956.9,611.6 962.3,602.9 967.8,607.9 973.3,610.4 978.8,612.3 984.3,609.6 989.8,612.4 995.3,606.7 1000.8,596.2 1006.3,609.3 1011.8,612.3 1017.3,612.3 1022.8,612.1 1028.3,613.4 1033.7,612.0 1039.2,612.3 1044.7,610.4 1050.2,609.4 1055.7,612.9 1061.2,608.4 1066.7,612.2 1072.2,609.8 1077.7,611.6 1083.2,610.3 1088.7,610.6 1094.2,612.4 1099.7,611.0 1105.1,610.2 1110.6,610.5 1116.1,606.1 1121.6,611.9 1127.1,610.0 1132.6,612.0 1138.1,612.6 1143.6,611.3 1149.1,613.3 1154.6,613.3 1160.1,612.6 1165.6,608.9 1171.1,613.1 1176.5,611.7 1182.0,610.8 1187.5,611.2 1193.0,613.7 1198.5,611.9 1204.0,610.3 1209.5,612.0 1215.0,611.3 1220.5,611.2 1226.0,608.7 1231.5,609.0 1237.0,612.7 1242.5,612.9 1248.0,611.0 1253.4,613.3 1258.9,611.1 1264.4,608.5 1269.9,611.4 1275.4,613.5 1280.9,612.3 1286.4,611.0 1291.9,612.2 1297.4,612.4 1302.9,610.3 1308.4,612.0 1313.9,611.0 1319.4,613.1 1324.8,613.7 1330.3,612.5 1335.8,612.8 1341.3,612.5 1346.8,611.2 1352.3,611.2 1357.8,613.1 1363.3,612.7 1368.8,612.4 1374.3,613.3 1379.8,610.8 1385.3,611.1 1390.8,611.5 1396.2,613.0"/>
<polyline stroke="#EDB120" points="852.5,604.5 858.0,599.3 863.5,465.2 869.0,543.8 874.5,568.9 880.0,538.5 885.4,607.5 890.9,608.8 896.4,581.5 901.9,587.1 907.4,607.2 912.9,543.4 918.4,609.5 923.9,608.7 929.4,605.8 934.9,612.4 940.4,597.1 945.9,593.8 951.4,604.9 956.9,601.9 962.3,612.7 967.8,607.4 973.3,604.0 978.8,605.1 984.3,610.5 989.8,612.7 995.3,601.5 1000.8,591.1 1006.3,611.8 1011.8,610.1 1017.3,606.6 1022.8,610.7 1028.3,611.5 1033.7,611.6 1039.2,611.4 1044.7,610.1 1050.2,611.4 1055.7,613.4 1061.2,610.4 1066.7,612.5 1072.2,611.1 1077.7,610.6 1083.2,612.3 1088.7,610.0 1094.2,611.3 1099.7,611.5 1105.1,609.4 1110.6,613.5 1116.1,608.1 1121.6,613.1 1127.1,613.0 1132.6,613.3 1138.1,611.4 1143.6,611.8 1149.1,610.8 1154.6,611.5 1160.1,613.0 1165.6,609.2 1171.1,610.4 1176.5,612.8 1182.0,611.7 1187.5,613.1 1193.0,612.5 1198.5,611.5 1204.0,612.3 1209.5,612.3 1215.0,610.7 1220.5,613.7 1226.0,613.6 1231.5,609.9 1237.0,611.9 1242.5,613.1 1248.0,609.2 1253.4,611.5 1258.9,610.9 1264.4,612.0 1269.9,609.4 1275.4,612.2 1280.9,611.6 1286.4,613.2 1291.9,612.2 1297.4,613.6 1302.9,613.2 1308.4,609.9 1313.9,612.6 1319.4,612.2 1324.8,610.6 1330.3,609.3 1335.8,613.2 1341.3,611.3 1346.8,611.4 1352.3,612.1 1357.8,611.9 1363.3,612.0 1368.8,613.3 1374.3,609.7 1379.8,610.1 1385.3,613.5 1390.8,612.3 1396.2,613.4"/>
<polyline stroke="#7E2F8E" points="852.5,575.1 858.0,590.6 863.5,483.9 869.0,555.5 874.5,589.2 880.0,553.1 885.4,608.8 890.9,607.0 896.4,578.4 901.9,597.5 907.4,608.9 912.9,562.1 918.4,610.0 923.9,595.4 929.4,611.5 934.9,595.6 940.4,589.1 945.9,597.4 951.4,588.1 956.9,602.4 962.3,598.2 967.8,605.3 973.3,592.7 978.8,594.6 984.3,607.2 989.8,596.8 995.3,609.2 1000.8,587.2 1006.3,611.7 1011.8,612.1 1017.3,605.4 1022.8,610.6 1028.3,613.0 1033.7,609.4 1039.2,613.6 1044.7,610.8 1050.2,607.9 1055.7,609.3 1061.2,608.6 1066.7,613.7 1072.2,609.6 1077.7,613.3 1083.2,612.8 1088.7,609.1 1094.2,612.1 1099.7,611.6 1105.1,611.5 1110.6,610.1 1116.1,609.2 1121.6,611.5 1127.1,609.8 1132.6,608.4 1138.1,611.0 1143.6,610.4 1149.1,608.7 1154.6,611.6 1160.1,607.9 1165.6,610.8 1171.1,610.1 1176.5,612.9 1182.0,612.8 1187.5,611.8 1193.0,613.7 1198.5,613.0 1204.0,610.0 1209.5,613.5 1215.0,610.4 1220.5,613.6 1226.0,612.6 1231.5,612.1 1237.0,612.7 1242.5,613.0 1248.0,612.4 1253.4,612.8 1258.9,608.9 1264.4,611.4 1269.9,609.2 1275.4,611.8 1280.9,612.5 1286.4,613.2 1291.9,608.6 1297.4,612.2 1302.9,612.1 1308.4,609.5 1313.9,613.6 1319.4,612.1 1324.8,609.4 1330.3,613.1 1335.8,612.7 1341.3,611.2 1346.8,610.5 1352.3,612.0 1357.8,612.9 1363.3,613.5 1368.8,610.4 1374.3,613.5 1379.8,610.3 1385.3,611.2 1390.8,610.2 1396.2,611.4"/>
<polyline stroke="#77AC30" points="852.5,608.0 858.0,594.6 863.5,511.8 869.0,570.0 874.5,589.8 880.0,588.9 885.4,607.2 890.9,610.0 896.4,550.0 901.9,569.5 907.4,607.2 912.9,523.0 918.4,612.2 923.9,607.1 929.4,610.4 934.9,610.3 940.4,600.9 945.9,589.1 951.4,600.5 956.9,592.4 962.3,610.8 967.8,608.3 973.3,585.3 978.8,596.2 984.3,611.9 989.8,611.1 995.3,607.7 1000.8,589.8 1006.3,611.3 1011.8,608.5 1017.3,610.2 1022.8,612.8 1028.3,612.6 1033.7,609.1 1039.2,612.0 1044.7,613.7 1050.2,611.8 1055.7,613.2 1061.2,609.5 1066.7,611.0 1072.2,612.8 1077.7,610.8 1083.2,612.3 1088.7,612.5 1094.2,608.7 1099.7,611.2 1105.1,612.3 1110.6,612.0 1116.1,613.1 1121.6,612.1 1127.1,612.1 1132.6,611.7 1138.1,613.1 1143.6,613.0 1149.1,611.2 1154.6,612.1 1160.1,607.5 1165.6,608.4 1171.1,613.0 1176.5,612.7 1182.0,612.7 1187.5,610.2 1193.0,612.5 1198.5,613.8 1204.0,609.0 1209.5,612.0 1215.0,610.5 1220.5,611.4 1226.0,609.4 1231.5,612.6 1237.0,613.6 1242.5,611.8 1248.0,611.2 1253.4,612.4 1258.9,610.8 1264.4,609.6 1269.9,609.4 1275.4,612.6 1280.9,612.0 1286.4,611.1 1291.9,611.5 1297.4,611.4 1302.9,612.2 1308.4,610.1 1313.9,611.7 1319.4,612.0 1324.8,612.3 1330.3,610.2 1335.8,611.3 1341.3,612.0 1346.8,611.8 1352.3,613.0 1357.8,612.2 1363.3,613.4 1368.8,612.2 1374.3,612.6 1379.8,612.9 1385.3,609.3 1390.8,611.3 1396.2,612.4"/>
<polyline stroke="#4DBEEE" points="852.5,536.0 858.0,580.4 863.5,521.1 869.0,585.4 874.5,576.2 880.0,534.1 885.4,605.2 890.9,608.7 896.4,574.6 901.9,584.9 907.4,608.9 912.9,553.1 918.4,610.6 923.9,595.0 929.4,611.9 934.9,610.6 940.4,612.6 945.9,594.8 951.4,597.1 956.9,597.4 962.3,600.1 967.8,610.5 973.3,608.8 978.8,593.7 984.3,610.4 989.8,603.0 995.3,607.7 1000.8,599.3 1006.3,612.8 1011.8,607.6 1017.3,610.9 1022.8,613.1 1028.3,612.6 1033.7,611.7 1039.2,612.4 1044.7,612.3 1050.2,613.3 1055.7,610.0 1061.2,611.4 1066.7,612.8 1072.2,609.7 1077.7,612.1 1083.2,611.9 1088.7,610.7 1094.2,610.7 1099.7,612.5 1105.1,609.7 1110.6,611.9 1116.1,608.4 1121.6,611.6 1127.1,611.0 1132.6,610.5 1138.1,612.4 1143.6,611.0 1149.1,612.6 1154.6,612.9 1160.1,610.8 1165.6,609.7 1171.1,611.2 1176.5,613.5 1182.0,613.6 1187.5,611.8 1193.0,612.8 1198.5,613.1 1204.0,611.1 1209.5,611.7 1215.0,613.1 1220.5,613.5 1226.0,610.1 1231.5,612.2 1237.0,613.3 1242.5,613.2 1248.0,612.7 1253.4,611.4 1258.9,613.4 1264.4,611.5 1269.9,609.7 1275.4,612.3 1280.9,611.5 1286.4,612.1 1291.9,613.7 1297.4,611.8 1302.9,612.3 1308.4,611.5 1313.9,613.2 1319.4,611.1 1324.8,612.7 1330.3,611.4 1335.8,611.9 1341.3,612.9 1346.8,609.9 1352.3,613.5 1357.8,612.0 1363.3,612.7 1368.8,610.9 1374.3,610.4 1379.8,611.7 1385.3,611.8 1390.8,613.1 1396.2,613.2"/>
<polyline stroke="#A2142F" points="852.5,603.6 858.0,602.2 863.5,521.1 869.0,579.0 874.5,598.6 880.0,599.6 885.4,612.3 890.9,610.5 896.4,593.1 901.9,599.5 907.4,612.3 912.9,589.8 918.4,611.4 923.9,605.3 929.4,611.5 934.9,613.3 940.4,605.7 945.9,606.9 951.4,606.0 956.9,599.3 962.3,602.8 967.8,612.9 973.3,608.8 978.8,606.9 984.3,602.4 989.8,610.0 995.3,611.3 1000.8,612.4 1006.3,611.5 1011.8,609.0 1017.3,608.6 1022.8,613.1 1028.3,612.1 1033.7,610.9 1039.2,612.8 1044.7,612.3 1050.2,613.5 1055.7,612.4 1061.2,612.2 1066.7,612.8 1072.2,613.0 1077.7,613.4 1083.2,612.8 1088.7,612.8 1094.2,610.9 1099.7,612.4 1105.1,612.2 1110.6,613.6 1116.1,613.3 1121.6,612.6 1127.1,612.9 1132.6,613.7 1138.1,611.9 1143.6,613.0 1149.1,613.1 1154.6,611.9 1160.1,611.8 1165.6,608.8 1171.1,611.8 1176.5,613.0 1182.0,612.6 1187.5,610.7 1193.0,612.1 1198.5,613.3 1204.0,612.7 1209.5,611.9 1215.0,613.2 1220.5,610.8 1226.0,613.6 1231.5,612.3 1237.0,612.9 1242.5,612.0 1248.0,611.2 1253.4,612.0 1258.9,612.0 1264.4,611.9 1269.9,611.2 1275.4,611.6 1280.9,613.3 1286.4,612.5 1291.9,612.8 1297.4,612.2 1302.9,613.2 1308.4,612.4 1313.9,612.5 1319.4,613.9 1324.8,613.1 1330.3,613.3 1335.8,611.8 1341.3,613.2 1346.8,611.5 1352.3,612.7 1357.8,611.8 1363.3,612.5 1368.8,612.1 1374.3,612.5 1379.8,610.5 1385.3,611.8 1390.8,611.9 1396.2,611.9"/>
<polyline stroke="#0072BD" points="852.5,607.8 858.0,555.5 863.5,199.0 869.0,555.1 874.5,569.5 880.0,553.1 885.4,608.9 890.9,611.0 896.4,574.6 901.9,602.1 907.4,610.1 912.9,565.3 918.4,611.1 923.9,599.1 929.4,607.8 934.9,611.4 940.4,597.5 945.9,600.8 951.4,607.8 956.9,598.9 962.3,601.9 967.8,611.8 973.3,606.1 978.8,612.3 984.3,598.8 989.8,612.3 995.3,605.9 1000.8,607.5 1006.3,611.6 1011.8,608.6 1017.3,612.9 1022.8,611.6 1028.3,612.7 1033.7,609.5 1039.2,612.4 1044.7,610.7 1050.2,613.7 1055.7,613.3 1061.2,610.6 1066.7,612.7 1072.2,613.8 1077.7,611.1 1083.2,611.5 1088.7,608.4 1094.2,611.4 1099.7,610.9 1105.1,609.0 1110.6,610.8 1116.1,608.4 1121.6,611.8 1127.1,611.7 1132.6,611.6 1138.1,611.8 1143.6,612.5 1149.1,612.3 1154.6,611.0 1160.1,613.1 1165.6,609.1 1171.1,610.8 1176.5,612.3 1182.0,613.5 1187.5,612.2 1193.0,613.7 1198.5,612.3 1204.0,611.0 1209.5,612.9 1215.0,612.1 1220.5,612.6 1226.0,610.8 1231.5,612.6 1237.0,612.7 1242.5,612.5 1248.0,609.0 1253.4,613.4 1258.9,608.9 1264.4,609.7 1269.9,611.0 1275.4,611.9 1280.9,611.5 1286.4,612.1 1291.9,613.0 1297.4,612.0 1302.9,611.2 1308.4,611.6 1313.9,611.4 1319.4,612.4 1324.8,610.5 1330.3,611.0 1335.8,611.0 1341.3,612.2 1346.8,611.0 1352.3,609.6 1357.8,612.2 1363.3,613.0 1368.8,612.4 1374.3,610.4 1379.8,609.3 1385.3,610.1 1390.8,610.9 1396.2,611.4"/>
<polyline stroke="#D95319" points="852.5,491.3 858.0,555.5 863.5,332.1 869.0,508.1 874.5,496.0 880.0,411.6 885.4,603.6 890.9,602.5 896.4,543.4 901.9,568.1 907.4,606.4 912.9,468.4 918.4,604.8 923.9,584.4 929.4,609.1 934.9,607.2 940.4,597.4 945.9,579.8 951.4,595.6 956.9,567.1 962.3,599.3 967.8,603.2 973.3,603.0 978.8,595.6 984.3,590.0 989.8,591.9 995.3,592.8 1000.8,581.6 1006.3,608.6 1011.8,608.6 1017.3,595.6 1022.8,612.5 1028.3,612.4 1033.7,611.5 1039.2,611.3 1044.7,607.8 1050.2,608.1 1055.7,610.6 1061.2,600.0 1066.7,611.3 1072.2,611.6 1077.7,610.8 1083.2,611.7 1088.7,603.0 1094.2,610.6 1099.7,609.7 1105.1,609.3 1110.6,612.9 1116.1,596.9 1121.6,612.2 1127.1,610.1 1132.6,606.2 1138.1,613.5 1143.6,611.6 1149.1,610.8 1154.6,610.6 1160.1,604.4 1165.6,604.7 1171.1,609.0 1176.5,610.8 1182.0,613.3 1187.5,610.9 1193.0,612.4 1198.5,612.6 1204.0,612.8 1209.5,611.1 1215.0,612.4 1220.5,604.9 1226.0,604.0 1231.5,608.1 1237.0,613.4 1242.5,613.3 1248.0,606.5 1253.4,613.7 1258.9,609.7 1264.4,601.9 1269.9,611.7 1275.4,613.2 1280.9,613.5 1286.4,611.5 1291.9,609.6 1297.4,612.5 1302.9,612.5 1308.4,603.4 1313.9,609.3 1319.4,610.1 1324.8,604.9 1330.3,610.9 1335.8,609.4 1341.3,612.6 1346.8,612.5 1352.3,605.8 1357.8,612.9 1363.3,613.9 1368.8,612.0 1374.3,609.9 1379.8,613.3 1385.3,607.1 1390.8,612.8 1396.2,612.5"/>
<polyline stroke="#EDB120" points="852.5,594.6 858.0,594.6 863.5,493.2 869.0,567.3 874.5,589.9 880.0,585.0 885.4,607.2 890.9,609.5 896.4,574.6 901.9,598.6 907.4,609.8 912.9,567.5 918.4,609.5 923.9,596.9 929.4,609.4 934.9,609.4 940.4,608.0 945.9,599.8 951.4,608.5 956.9,601.7 962.3,612.7 967.8,612.1 973.3,600.0 978.8,598.4 984.3,609.1 989.8,611.8 995.3,603.2 1000.8,605.9 1006.3,610.6 1011.8,613.1 1017.3,613.1 1022.8,611.9 1028.3,612.7 1033.7,610.0 1039.2,612.9 1044.7,611.0 1050.2,610.4 1055.7,610.0 1061.2,608.6 1066.7,611.8 1072.2,612.0 1077.7,613.5 1083.2,611.6 1088.7,612.7 1094.2,610.8 1099.7,613.7 1105.1,612.0 1110.6,611.9 1116.1,606.8 1121.6,612.3 1127.1,613.0 1132.6,611.8 1138.1,612.9 1143.6,611.6 1149.1,611.7 1154.6,612.5 1160.1,612.9 1165.6,612.6 1171.1,613.2 1176.5,613.5 1182.0,611.8 1187.5,612.2 1193.0,611.8 1198.5,611.8 1204.0,610.1 1209.5,612.3 1215.0,612.5 1220.5,611.0 1226.0,613.1 1231.5,611.9 1237.0,613.0 1242.5,611.5 1248.0,609.8 1253.4,612.9 1258.9,610.7 1264.4,611.7 1269.9,613.4 1275.4,612.5 1280.9,613.3 1286.4,611.0 1291.9,611.4 1297.4,612.3 1302.9,613.0 1308.4,611.0 1313.9,611.2 1319.4,611.0 1324.8,610.8 1330.3,609.9 1335.8,612.7 1341.3,612.4 1346.8,613.2 1352.3,611.5 1357.8,613.1 1363.3,613.5 1368.8,613.1 1374.3,612.8 1379.8,610.6 1385.3,610.2 1390.8,612.0 1396.2,612.1"/>
<polyline stroke="#7E2F8E" points="852.5,604.5 858.0,605.5 863.5,502.5 869.0,592.1 874.5,584.9 880.0,581.9 885.4,608.9 890.9,610.2 896.4,598.5 901.9,605.6 907.4,611.1 912.9,597.1 918.4,611.9 923.9,604.5 929.4,610.4 934.9,607.8 940.4,606.2 945.9,597.9 951.4,606.2 956.9,602.4 962.3,598.0 967.8,612.8 973.3,607.4 978.8,596.6 984.3,599.7 989.8,601.9 995.3,613.1 1000.8,600.1 1006.3,611.3 1011.8,608.9 1017.3,609.3 1022.8,613.9 1028.3,611.5 1033.7,613.9 1039.2,611.8 1044.7,611.7 1050.2,610.2 1055.7,614.0 1061.2,608.1 1066.7,611.6 1072.2,612.5 1077.7,613.5 1083.2,612.8 1088.7,610.9 1094.2,610.8 1099.7,612.8 1105.1,613.2 1110.6,613.1 1116.1,608.6 1121.6,613.1 1127.1,612.8 1132.6,612.2 1138.1,613.5 1143.6,613.0 1149.1,610.8 1154.6,611.6 1160.1,613.0 1165.6,612.5 1171.1,612.0 1176.5,613.0 1182.0,610.4 1187.5,612.5 1193.0,611.7 1198.5,612.4 1204.0,612.4 1209.5,612.1 1215.0,611.6 1220.5,613.6 1226.0,612.1 1231.5,610.0 1237.0,613.1 1242.5,610.3 1248.0,611.9 1253.4,613.3 1258.9,609.8 1264.4,612.7 1269.9,610.2 1275.4,611.7 1280.9,613.2 1286.4,612.7 1291.9,613.7 1297.4,613.3 1302.9,612.9 1308.4,613.0 1313.9,611.9 1319.4,611.7 1324.8,609.9 1330.3,613.1 1335.8,612.7 1341.3,611.8 1346.8,613.3 1352.3,611.4 1357.8,611.2 1363.3,612.7 1368.8,611.5 1374.3,612.7 1379.8,610.4 1385.3,610.9 1390.8,613.8 1396.2,613.2"/>
<polyline stroke="#77AC30" points="852.5,606.4 858.0,598.6 863.5,530.4 869.0,586.0 874.5,590.1 880.0,600.4 885.4,608.9 890.9,611.6 896.4,595.3 901.9,593.3 907.4,612.2 912.9,590.0 918.4,611.4 923.9,597.0 929.4,612.8 934.9,609.6 940.4,605.7 945.9,602.0 951.4,613.2 956.9,607.1 962.3,603.4 967.8,613.0 973.3,605.0 978.8,596.6 984.3,607.4 989.8,603.2 995.3,602.9 1000.8,592.8 1006.3,611.8 1011.8,610.3 1017.3,609.9 1022.8,612.7 1028.3,612.8 1033.7,613.1 1039.2,611.7 1044.7,609.7 1050.2,610.5 1055.7,610.4 1061.2,608.6 1066.7,611.7 1072.2,612.4 1077.7,613.6 1083.2,612.4 1088.7,610.0 1094.2,609.5 1099.7,613.4 1105.1,612.8 1110.6,611.5 1116.1,612.2 1121.6,611.8 1127.1,612.0 1132.6,610.6 1138.1,611.7 1143.6,611.3 1149.1,611.2 1154.6,612.0 1160.1,611.7 1165.6,613.7 1171.1,611.3 1176.5,612.1 1182.0,611.4 1187.5,612.7 1193.0,613.2 1198.5,611.2 1204.0,612.1 1209.5,611.7 1215.0,610.0 1220.5,608.8 1226.0,612.2 1231.5,611.4 1237.0,613.4 1242.5,612.0 1248.0,610.6 1253.4,613.3 1258.9,612.7 1264.4,613.6 1269.9,612.3 1275.4,611.6 1280.9,612.9 1286.4,613.1 1291.9,610.9 1297.4,612.7 1302.9,611.2 1308.4,610.2 1313.9,611.0 1319.4,611.9 1324.8,611.6 1330.3,611.1 1335.8,613.3 1341.3,613.0 1346.8,611.5 1352.3,610.2 1357.8,611.9 1363.3,613.1 1368.8,612.1 1374.3,611.2 1379.8,613.6 1385.3,611.1 1390.8,613.4 1396.2,612.3"/>
<polyline stroke="#4DBEEE" points="852.5,579.3 858.0,600.3 863.5,555.5 869.0,590.7 874.5,590.0 880.0,589.8 885.4,609.8 890.9,610.8 896.4,597.3 901.9,602.7 907.4,611.1 912.9,593.4 918.4,611.0 923.9,608.2 929.4,610.9 934.9,604.8 940.4,608.0 945.9,593.6 951.4,607.6 956.9,598.6 962.3,602.6 967.8,609.6 973.3,606.4 978.8,609.4 984.3,606.0 989.8,609.1 995.3,613.2 1000.8,598.1 1006.3,611.8 1011.8,611.3 1017.3,611.9 1022.8,613.5 1028.3,611.9 1033.7,612.3 1039.2,612.2 1044.7,611.1 1050.2,612.5 1055.7,611.4 1061.2,608.0 1066.7,611.9 1072.2,610.8 1077.7,613.0 1083.2,612.2 1088.7,612.7 1094.2,610.0 1099.7,612.8 1105.1,612.3 1110.6,612.3 1116.1,610.1 1121.6,612.3 1127.1,612.5 1132.6,613.5 1138.1,612.2 1143.6,611.8 1149.1,612.8 1154.6,612.8 1160.1,611.7 1165.6,613.0 1171.1,610.8 1176.5,613.5 1182.0,613.7 1187.5,610.8 1193.0,613.2 1198.5,612.0 1204.0,610.6 1209.5,613.1 1215.0,611.4 1220.5,610.0 1226.0,611.7 1231.5,611.7 1237.0,612.8 1242.5,611.0 1248.0,612.7 1253.4,613.1 1258.9,612.4 1264.4,611.3 1269.9,610.4 1275.4,613.5 1280.9,612.6 1286.4,611.3 1291.9,613.1 1297.4,613.1 1302.9,613.4 1308.4,613.1 1313.9,612.0 1319.4,613.8 1324.8,611.9 1330.3,611.3 1335.8,613.9 1341.3,613.6 1346.8,613.4 1352.3,610.9 1357.8,613.0 1363.3,613.1 1368.8,613.0 1374.3,613.1 1379.8,613.1 1385.3,612.5 1390.8,613.4 1396.2,612.1"/>
<polyline stroke="#A2142F" points="852.5,565.3 858.0,584.6 863.5,402.9 869.0,545.5 874.5,549.0 880.0,565.3 885.4,605.4 890.9,609.7 896.4,582.5 901.9,589.8 907.4,609.8 912.9,565.3 918.4,610.7 923.9,602.1 929.4,610.9 934.9,606.5 940.4,611.5 945.9,612.7 951.4,606.2 956.9,610.0 962.3,596.1 967.8,607.7 973.3,602.0 978.8,603.4 984.3,602.4 989.8,606.5 995.3,608.3 1000.8,597.3 1006.3,612.6 1011.8,612.5 1017.3,606.9 1022.8,610.7 1028.3,613.4 1033.7,612.3 1039.2,611.7 1044.7,613.7 1050.2,609.9 1055.7,613.0 1061.2,612.3 1066.7,610.8 1072.2,612.3 1077.7,613.0 1083.2,611.0 1088.7,613.2 1094.2,611.5 1099.7,612.7 1105.1,612.7 1110.6,610.9 1116.1,611.1 1121.6,612.4 1127.1,613.2 1132.6,611.8 1138.1,611.6 1143.6,611.5 1149.1,611.8 1154.6,612.5 1160.1,610.6 1165.6,610.6 1171.1,613.2 1176.5,612.9 1182.0,613.0 1187.5,609.9 1193.0,612.3 1198.5,610.7 1204.0,612.8 1209.5,612.0 1215.0,610.2 1220.5,612.6 1226.0,608.8 1231.5,609.7 1237.0,612.7 1242.5,610.8 1248.0,613.2 1253.4,613.4 1258.9,612.0 1264.4,613.0 1269.9,610.7 1275.4,613.9 1280.9,613.2 1286.4,613.6 1291.9,611.5 1297.4,613.3 1302.9,612.5 1308.4,610.4 1313.9,612.2 1319.4,613.5 1324.8,612.8 1330.3,613.3 1335.8,611.9 1341.3,612.0 1346.8,613.3 1352.3,610.2 1357.8,611.2 1363.3,613.8 1368.8,612.6 1374.3,610.6 1379.8,609.8 1385.3,611.7 1390.8,611.6 1396.2,611.1"/>
<polyline stroke="#0072BD" points="852.5,606.4 858.0,604.4 863.5,539.7 869.0,595.5 874.5,594.6 880.0,599.2 885.4,611.4 890.9,611.8 896.4,598.4 901.9,605.1 907.4,612.2 912.9,594.6 918.4,611.9 923.9,608.0 929.4,609.8 934.9,605.9 940.4,606.1 945.9,594.2 951.4,607.0 956.9,604.5 962.3,601.7 967.8,609.4 973.3,599.8 978.8,609.5 984.3,611.3 989.8,608.2 995.3,604.2 1000.8,598.1 1006.3,613.8 1011.8,613.4 1017.3,607.2 1022.8,612.0 1028.3,613.2 1033.7,611.6 1039.2,613.6 1044.7,613.4 1050.2,611.6 1055.7,610.8 1061.2,611.6 1066.7,611.7 1072.2,610.3 1077.7,611.9 1083.2,611.2 1088.7,611.9 1094.2,611.0 1099.7,613.7 1105.1,612.4 1110.6,612.3 1116.1,613.5 1121.6,612.3 1127.1,610.3 1132.6,612.3 1138.1,612.4 1143.6,612.3 1149.1,611.9 1154.6,612.5 1160.1,608.6 1165.6,611.8 1171.1,611.8 1176.5,613.5 1182.0,611.6 1187.5,612.2 1193.0,612.6 1198.5,613.4 1204.0,610.4 1209.5,613.7 1215.0,610.1 1220.5,613.2 1226.0,612.6 1231.5,611.4 1237.0,612.4 1242.5,613.0 1248.0,613.5 1253.4,612.4 1258.9,609.6 1264.4,612.8 1269.9,611.4 1275.4,612.8 1280.9,613.2 1286.4,613.2 1291.9,610.6 1297.4,612.9 1302.9,610.6 1308.4,613.4 1313.9,613.2 1319.4,610.9 1324.8,612.5 1330.3,612.7 1335.8,611.5 1341.3,613.1 1346.8,611.3 1352.3,611.9 1357.8,613.7 1363.3,612.0 1368.8,612.1 1374.3,612.7 1379.8,609.9 1385.3,613.0 1390.8,612.0 1396.2,612.0"/>
<polyline stroke="#D95319" points="852.5,594.6 858.0,606.5 863.5,521.1 869.0,549.0 874.5,582.4 880.0,565.3 885.4,610.3 890.9,611.2 896.4,595.0 901.9,602.6 907.4,610.7 912.9,580.4 918.4,611.4 923.9,601.0 929.4,609.2 934.9,610.1 940.4,611.8 945.9,595.9 951.4,613.0 956.9,600.2 962.3,612.7 967.8,610.9 973.3,606.8 978.8,598.2 984.3,611.3 989.8,612.1 995.3,612.4 1000.8,604.4 1006.3,609.9 1011.8,608.5 1017.3,607.7 1022.8,612.2 1028.3,612.6 1033.7,611.7 1039.2,612.5 1044.7,611.0 1050.2,610.0 1055.7,613.5 1061.2,613.5 1066.7,611.3 1072.2,612.0 1077.7,612.4 1083.2,611.3 1088.7,608.8 1094.2,613.6 1099.7,613.2 1105.1,613.5 1110.6,611.6 1116.1,609.3 1121.6,612.8 1127.1,612.4 1132.6,610.8 1138.1,613.7 1143.6,612.2 1149.1,613.3 1154.6,611.6 1160.1,612.5 1165.6,608.6 1171.1,611.0 1176.5,611.9 1182.0,613.6 1187.5,612.5 1193.0,611.6 1198.5,613.4 1204.0,612.7 1209.5,611.8 1215.0,612.1 1220.5,611.5 1226.0,611.3 1231.5,610.7 1237.0,613.1 1242.5,613.6 1248.0,612.5 1253.4,613.6 1258.9,609.4 1264.4,613.6 1269.9,612.4 1275.4,613.4 1280.9,612.0 1286.4,613.5 1291.9,613.4 1297.4,613.1 1302.9,611.5 1308.4,612.9 1313.9,611.0 1319.4,612.9 1324.8,612.1 1330.3,610.9 1335.8,611.2 1341.3,612.1 1346.8,610.9 1352.3,609.6 1357.8,611.8 1363.3,613.1 1368.8,611.3 1374.3,612.7 1379.8,610.4 1385.3,613.6 1390.8,613.0 1396.2,611.6"/>
<polyline stroke="#EDB120" points="852.5,609.6 858.0,609.9 863.5,511.8 869.0,597.2 874.5,586.8 880.0,584.9 885.4,610.7 890.9,611.6 896.4,587.8 901.9,604.1 907.4,611.7 912.9,595.0 918.4,612.9 923.9,605.0 929.4,608.4 934.9,606.2 940.4,607.1 945.9,601.6 951.4,601.7 956.9,611.8 962.3,604.4 967.8,608.6 973.3,606.0 978.8,598.5 984.3,606.4 989.8,604.5 995.3,605.2 1000.8,596.0 1006.3,612.7 1011.8,609.1 1017.3,612.0 1022.8,611.8 1028.3,613.3 1033.7,612.2 1039.2,612.9 1044.7,613.0 1050.2,610.3 1055.7,612.1 1061.2,609.9 1066.7,613.0 1072.2,612.1 1077.7,611.9 1083.2,610.7 1088.7,609.8 1094.2,612.7 1099.7,612.1 1105.1,611.9 1110.6,613.3 1116.1,613.3 1121.6,612.1 1127.1,613.8 1132.6,612.4 1138.1,612.2 1143.6,613.1 1149.1,610.2 1154.6,612.4 1160.1,609.8 1165.6,612.3 1171.1,611.9 1176.5,612.8 1182.0,611.1 1187.5,612.6 1193.0,611.4 1198.5,611.0 1204.0,610.8 1209.5,613.4 1215.0,610.6 1220.5,613.8 1226.0,610.4 1231.5,609.8 1237.0,613.0 1242.5,611.6 1248.0,612.1 1253.4,613.3 1258.9,610.6 1264.4,611.6 1269.9,612.0 1275.4,613.0 1280.9,613.8 1286.4,613.3 1291.9,613.1 1297.4,612.1 1302.9,612.1 1308.4,609.7 1313.9,611.5 1319.4,613.0 1324.8,613.3 1330.3,613.4 1335.8,611.4 1341.3,612.3 1346.8,610.6 1352.3,609.8 1357.8,613.6 1363.3,612.2 1368.8,612.3 1374.3,613.4 1379.8,611.2 1385.3,611.4 1390.8,611.5 1396.2,612.5"/>
<polyline stroke="#7E2F8E" points="852.5,604.4 858.0,607.4 863.5,549.0 869.0,595.4 874.5,599.5 880.0,594.6 885.4,610.7 890.9,612.2 896.4,602.5 901.9,608.3 907.4,611.6 912.9,597.4 918.4,611.9 923.9,611.2 929.4,608.7 934.9,606.8 940.4,606.4 945.9,602.5 951.4,601.2 956.9,607.9 962.3,608.6 967.8,610.2 973.3,610.4 978.8,604.7 984.3,605.3 989.8,602.5 995.3,604.1 1000.8,598.7 1006.3,612.2 1011.8,612.9 1017.3,612.6 1022.8,612.9 1028.3,612.7 1033.7,610.7 1039.2,612.9 1044.7,613.5 1050.2,613.5 1055.7,610.2 1061.2,612.8 1066.7,612.3 1072.2,611.2 1077.7,612.8 1083.2,613.1 1088.7,609.8 1094.2,611.0 1099.7,613.7 1105.1,610.0 1110.6,611.5 1116.1,613.5 1121.6,613.6 1127.1,611.7 1132.6,612.7 1138.1,613.6 1143.6,613.7 1149.1,612.5 1154.6,611.7 1160.1,609.9 1165.6,613.5 1171.1,611.8 1176.5,613.5 1182.0,613.0 1187.5,610.9 1193.0,613.5 1198.5,610.8 1204.0,610.8 1209.5,613.7 1215.0,611.2 1220.5,612.8 1226.0,610.2 1231.5,613.5 1237.0,613.5 1242.5,611.9 1248.0,613.3 1253.4,613.7 1258.9,611.0 1264.4,610.2 1269.9,612.2 1275.4,613.7 1280.9,612.6 1286.4,611.5 1291.9,613.3 1297.4,613.1 1302.9,612.5 1308.4,610.9 1313.9,613.9 1319.4,611.4 1324.8,610.6 1330.3,610.9 1335.8,611.8 1341.3,613.7 1346.8,613.7 1352.3,610.7 1357.8,613.0 1363.3,612.9 1368.8,613.4 1374.3,611.8 1379.8,611.4 1385.3,613.0 1390.8,613.0 1396.2,612.1"/>
<polyline stroke="#77AC30" points="852.5,610.9 858.0,606.4 863.5,536.0 869.0,602.3 874.5,600.1 880.0,601.4 885.4,611.3 890.9,610.3 896.4,572.1 901.9,600.8 907.4,611.2 912.9,568.8 918.4,610.7 923.9,602.5 929.4,612.6 934.9,612.9 940.4,612.0 945.9,609.4 951.4,603.0 956.9,600.3 962.3,608.2 967.8,609.4 973.3,595.6 978.8,609.4 984.3,600.1 989.8,605.2 995.3,612.6 1000.8,603.0 1006.3,613.0 1011.8,613.8 1017.3,606.6 1022.8,613.6 1028.3,612.6 1033.7,610.9 1039.2,612.2 1044.7,611.3 1050.2,610.3 1055.7,609.5 1061.2,607.4 1066.7,610.9 1072.2,612.5 1077.7,613.1 1083.2,613.5 1088.7,612.5 1094.2,610.3 1099.7,611.7 1105.1,611.6 1110.6,611.1 1116.1,606.6 1121.6,611.5 1127.1,611.8 1132.6,611.7 1138.1,613.1 1143.6,611.0 1149.1,613.1 1154.6,612.7 1160.1,608.6 1165.6,610.5 1171.1,611.6 1176.5,612.4 1182.0,613.1 1187.5,611.6 1193.0,611.5 1198.5,611.7 1204.0,612.1 1209.5,612.0 1215.0,612.9 1220.5,612.8 1226.0,613.2 1231.5,612.7 1237.0,612.6 1242.5,611.9 1248.0,612.3 1253.4,612.3 1258.9,610.2 1264.4,607.8 1269.9,611.2 1275.4,613.2 1280.9,612.6 1286.4,611.9 1291.9,610.0 1297.4,612.2 1302.9,611.6 1308.4,613.5 1313.9,611.5 1319.4,611.7 1324.8,611.4 1330.3,611.1 1335.8,612.0 1341.3,612.7 1346.8,611.2 1352.3,611.3 1357.8,612.6 1363.3,612.6 1368.8,612.9 1374.3,612.9 1379.8,613.0 1385.3,609.9 1390.8,611.6 1396.2,611.2"/>
</g>
<g fill="#1a1a1a" stroke="#1a1a1a" stroke-width="0.4">
<text transform="translate(848.2,666.3) scale(0.982,1)" font-size="38.8px" text-anchor="middle" stroke-width="0.15">0</text>
<text transform="translate(958.0,666.3) scale(0.982,1)" font-size="38.8px" text-anchor="middle" stroke-width="0.15">5</text>
<text transform="translate(1067.9,666.3) scale(0.982,1)" font-size="38.8px" text-anchor="middle" stroke-width="0.15">10</text>
<text transform="translate(1177.7,666.3) scale(0.982,1)" font-size="38.8px" text-anchor="middle" stroke-width="0.15">15</text>
<text transform="translate(1287.6,666.3) scale(0.982,1)" font-size="38.8px" text-anchor="middle" stroke-width="0.15">20</text>
<text transform="translate(1397.5,666.3) scale(0.982,1)" font-size="38.8px" text-anchor="middle" stroke-width="0.15">25</text>
<text transform="translate(832.9,628.7) scale(0.982,1)" font-size="38.8px" text-anchor="end" stroke-width="0.15">0</text>
<text transform="translate(832.9,535.6) scale(0.982,1)" font-size="38.8px" text-anchor="end" stroke-width="0.15">0.5</text>
<text transform="translate(832.9,442.5) scale(0.982,1)" font-size="38.8px" text-anchor="end" stroke-width="0.15">1</text>
<text transform="translate(832.9,349.4) scale(0.982,1)" font-size="38.8px" text-anchor="end" stroke-width="0.15">1.5</text>
<text transform="translate(832.9,256.3) scale(0.982,1)" font-size="38.8px" text-anchor="end" stroke-width="0.15">2</text>
<text transform="translate(832.9,163.2) scale(0.982,1)" font-size="38.8px" text-anchor="end" stroke-width="0.15">2.5</text>
<text transform="translate(832.9,70.1) scale(0.982,1)" font-size="38.8px" text-anchor="end" stroke-width="0.15">3</text>
<text transform="translate(850.1,49.8) scale(1.0,1)" font-size="42px" text-anchor="start" stroke="none">×</text>
<text transform="translate(877.8,45.0) scale(0.982,1)" font-size="38.8px" text-anchor="start" stroke-width="0.15">10</text>
<text transform="translate(921.3,26.3) scale(0.982,1)" font-size="30px" text-anchor="start" stroke-width="0.15">7</text>
<text transform="translate(1122.4,721.2) scale(1.003,1)" font-size="42.6px" text-anchor="middle">Frequency (Hz)</text>
<text transform="translate(761.0,334.4) rotate(-90) scale(0.997,1)" font-size="42.6px" text-anchor="middle">PSD</text>
<text transform="translate(1122.2,39.5) scale(0.997,1)" font-size="42.6px" text-anchor="middle" fill="#000" stroke="#000">Normal</text>
</g>
</svg>
</body></html>
